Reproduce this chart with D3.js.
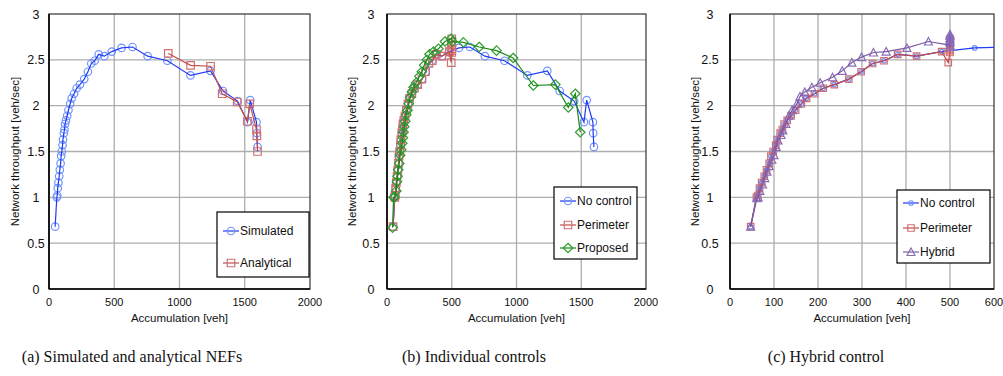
<!DOCTYPE html>
<html>
<head>
<meta charset="utf-8">
<script src="https://cdn.jsdelivr.net/npm/d3@7"></script>
<style>
  body { margin: 0; background: #fff; }
  svg { display: block; font-family: "Liberation Sans", Arial, sans-serif; }
</style>
</head>
<body>
<svg id="chart" width="1003" height="376"></svg>
<script>
// no control (simulated NEF)
const noControlAcc = [47, 60, 63, 67, 72, 78, 83, 89, 93, 98, 104, 107, 114, 119, 123, 130, 139, 149, 162, 174, 192, 212, 237, 270, 298, 324, 350, 381, 424, 481, 556, 640, 756, 907, 1084, 1238, 1334, 1445, 1521, 1542, 1590, 1592, 1598];
const noControlFlow = [0.68, 1.00, 1.02, 1.10, 1.16, 1.23, 1.30, 1.37, 1.45, 1.50, 1.57, 1.63, 1.70, 1.74, 1.80, 1.84, 1.89, 1.95, 2.02, 2.08, 2.13, 2.19, 2.23, 2.29, 2.37, 2.46, 2.49, 2.56, 2.54, 2.59, 2.63, 2.64, 2.54, 2.49, 2.33, 2.38, 2.16, 2.05, 1.82, 2.06, 1.82, 1.70, 1.55];

// analytical NEF
const analyticalAcc = [914, 1085, 1238, 1327, 1442, 1521, 1538, 1590, 1593, 1598];
const analyticalFlow = [2.57, 2.44, 2.43, 2.13, 2.04, 1.83, 2.02, 1.74, 1.67, 1.50];

// perimeter control
const perimeterAcc = [47, 60, 63, 67, 72, 78, 83, 89, 93, 98, 104, 107, 114, 119, 123, 130, 139, 149, 162, 174, 192, 212, 237, 270, 298, 324, 350, 381, 424, 481, 496, 500, 500, 500, 500, 500, 500];
const perimeterFlow = [0.68, 1.00, 1.02, 1.10, 1.16, 1.23, 1.30, 1.37, 1.45, 1.50, 1.57, 1.63, 1.70, 1.74, 1.80, 1.84, 1.89, 1.95, 2.02, 2.08, 2.13, 2.19, 2.23, 2.29, 2.37, 2.46, 2.49, 2.56, 2.54, 2.59, 2.47, 2.58, 2.62, 2.66, 2.69, 2.73, 2.60];

// proposed control
const proposedAcc = [43, 51, 58, 72, 77, 82, 87, 95, 102, 110, 118, 123, 128, 133, 141, 149, 159, 169, 179, 192, 205, 225, 251, 269, 287, 308, 328, 359, 397, 448, 495, 505, 590, 712, 846, 974, 1130, 1300, 1400, 1454, 1492];
const proposedFlow = [0.67, 1.00, 1.00, 1.07, 1.17, 1.23, 1.30, 1.37, 1.46, 1.52, 1.59, 1.65, 1.71, 1.77, 1.83, 1.90, 1.95, 2.02, 2.09, 2.15, 2.20, 2.25, 2.32, 2.37, 2.44, 2.50, 2.56, 2.59, 2.62, 2.70, 2.73, 2.70, 2.69, 2.64, 2.60, 2.52, 2.22, 2.23, 1.98, 2.13, 1.71];

// hybrid control
const hybridAcc = [47, 61, 64, 68, 74, 79, 84, 89, 95, 100, 105, 109, 116, 120, 127, 134, 141, 152, 159, 170, 186, 205, 233, 255, 277, 299, 326, 355, 402, 451, 500, 500, 500, 500, 500, 500, 500, 500];
const hybridFlow = [0.68, 0.99, 1.00, 1.07, 1.14, 1.21, 1.28, 1.34, 1.41, 1.46, 1.55, 1.62, 1.68, 1.73, 1.80, 1.89, 1.95, 2.02, 2.10, 2.15, 2.20, 2.25, 2.31, 2.38, 2.47, 2.53, 2.58, 2.59, 2.63, 2.70, 2.66, 2.69, 2.72, 2.74, 2.76, 2.78, 2.70, 2.64];

const yTicks = [0, 0.5, 1, 1.5, 2, 2.5, 3];
const xTicksWide = [0, 500, 1000, 1500, 2000];
const xTicksNarrow = [0, 100, 200, 300, 400, 500, 600];
const captions = ['(a) Simulated and analytical NEFs', '(b) Individual controls', '(c) Hybrid control'];

const svg = d3.select('#chart');

const styles = {
  blue:   { line: '#1f3cf5', mark: '#6f93ff' },
  red:    { line: '#c44e4e', mark: '#d27070' },
  green:  { line: '#168a16', mark: '#2f9c2f' },
  purple: { line: '#7a5ca6', mark: '#8a6cb8' }
};

function zip(xs, ys) {
  return xs.map((x, i) => [x, ys[i]]);
}

function markerPath(shape, size) {
  const s = size / 2;
  if (shape === 'square') return `M${-s},${-s}H${s}V${s}H${-s}Z`;
  if (shape === 'diamond') return `M0,${-s - 1}L${s + 1},0L0,${s + 1}L${-s - 1},0Z`;
  if (shape === 'triangle') return `M0,${-s - 0.5}L${s + 0.5},${s}L${-s - 0.5},${s}Z`;
  return null;
}

function drawMarker(g, shape, size, color, x, y) {
  if (shape === 'circle') {
    g.append('circle').attr('cx', x).attr('cy', y).attr('r', size / 2)
      .attr('fill', 'none').attr('stroke', color).attr('stroke-width', 1.2);
  } else {
    g.append('path').attr('d', markerPath(shape, size))
      .attr('transform', `translate(${x},${y})`)
      .attr('fill', 'none').attr('stroke', color).attr('stroke-width', 1.2);
  }
}

function drawPanel(p) {
  const x = d3.scaleLinear().domain(p.xDomain).range([p.left, p.right]);
  const y = d3.scaleLinear().domain([0, 3]).range([p.bottom, p.top]);
  const g = svg.append('g');

  // grid
  g.selectAll('.hgrid').data(yTicks.slice(1, -1)).enter().append('line')
    .attr('x1', p.left).attr('x2', p.right)
    .attr('y1', d => y(d)).attr('y2', d => y(d))
    .attr('stroke', '#adadad').attr('stroke-width', 1.3);
  g.selectAll('.vgrid').data(p.xTicks.slice(1, -1)).enter().append('line')
    .attr('y1', p.top).attr('y2', p.bottom)
    .attr('x1', d => x(d)).attr('x2', d => x(d))
    .attr('stroke', '#adadad').attr('stroke-width', 1.3);

  // frame
  g.append('rect').attr('x', p.left).attr('y', p.top)
    .attr('width', p.right - p.left).attr('height', p.bottom - p.top)
    .attr('fill', 'none').attr('stroke', '#333').attr('stroke-width', 1.2);
  g.append('line').attr('x1', p.left).attr('x2', p.left).attr('y1', p.top).attr('y2', p.bottom)
    .attr('stroke', '#000').attr('stroke-width', 1.6);
  g.append('line').attr('x1', p.left).attr('x2', p.right).attr('y1', p.bottom).attr('y2', p.bottom)
    .attr('stroke', '#000').attr('stroke-width', 1.6);

  // tick labels
  g.selectAll('.ylab').data(yTicks).enter().append('text')
    .attr('x', p.left - p.yTickOff).attr('y', d => y(d)).attr('dy', '0.36em')
    .attr('text-anchor', 'middle').attr('font-size', 12.5).attr('fill', '#111')
    .text(d => d);
  g.selectAll('.xlab').data(p.xTicks).enter().append('text')
    .attr('x', d => x(d)).attr('y', 306)
    .attr('text-anchor', 'middle').attr('font-size', 11).attr('fill', '#111')
    .text(d => d);

  // axis titles
  g.append('text').attr('transform', `translate(${p.yLabelX},${(p.top + p.bottom) / 2}) rotate(-90)`)
    .attr('text-anchor', 'middle').attr('dy', '0.35em').attr('font-size', 11.5).attr('fill', '#111')
    .text('Network throughput [veh/sec]');
  g.append('text').attr('x', (p.left + p.right) / 2).attr('y', 322)
    .attr('text-anchor', 'middle').attr('font-size', 11.5).attr('fill', '#111')
    .text('Accumulation [veh]');

  // series
  const clipId = 'clip' + p.id;
  svg.append('clipPath').attr('id', clipId).append('rect')
    .attr('x', p.left).attr('y', p.top - 10).attr('width', p.right - p.left).attr('height', p.bottom - p.top + 10);
  const plot = g.append('g').attr('clip-path', `url(#${clipId})`);
  const line = d3.line().x(d => x(d[0])).y(d => y(d[1]));

  p.series.forEach(s => {
    const pts = zip(s.xs, s.ys);
    const sg = plot.append('g');
    pts.forEach(d => drawMarker(sg, s.shape, s.size, s.style.mark, x(d[0]), y(d[1])));
    sg.append('path').datum(pts).attr('d', line)
      .attr('fill', 'none').attr('stroke', s.style.line).attr('stroke-width', 1.2);
  });

  // legend
  const L = p.legend;
  const lg = g.append('g');
  lg.append('rect').attr('x', L.x).attr('y', L.y).attr('width', L.w).attr('height', L.h)
    .attr('fill', '#fff').attr('stroke', '#000').attr('stroke-width', 1.2);
  p.series.forEach((s, i) => {
    const ly = L.rows[i];
    lg.append('line').attr('x1', L.x + 6).attr('x2', L.x + 22).attr('y1', ly).attr('y2', ly)
      .attr('stroke', s.style.line).attr('stroke-width', 1.2);
    drawMarker(lg, s.shape, s.size, s.style.mark, L.x + 14, ly);
    lg.append('text').attr('x', L.x + 23).attr('y', ly).attr('dy', '0.36em')
      .attr('font-size', 12).attr('fill', '#111').text(s.name);
  });

  svg.append('text').attr('x', p.captionX).attr('y', 362)
    .attr('text-anchor', 'middle').attr('font-family', '"Liberation Serif", "Times New Roman", serif')
    .attr('font-size', 16).attr('fill', '#111').text(p.caption);
}

drawPanel({
  id: 'a', left: 49, right: 310, top: 14, bottom: 289,
  xDomain: [0, 2000], xTicks: xTicksWide, yTickOff: 13, yLabelX: 15,
  caption: captions[0], captionX: 132,
  legend: { x: 217, y: 212, w: 92, h: 65, rows: [231, 263] },
  series: [
    { name: 'Simulated', xs: noControlAcc, ys: noControlFlow, style: styles.blue, shape: 'circle', size: 7.5 },
    { name: 'Analytical', xs: analyticalAcc, ys: analyticalFlow, style: styles.red, shape: 'square', size: 7.5 }
  ]
});

drawPanel({
  id: 'b', left: 387, right: 646, top: 14, bottom: 289,
  xDomain: [0, 2000], xTicks: xTicksWide, yTickOff: 16, yLabelX: 352,
  caption: captions[1], captionX: 474,
  legend: { x: 554, y: 187, w: 83, h: 72, rows: [201, 225, 248] },
  series: [
    { name: 'No control', xs: noControlAcc, ys: noControlFlow, style: styles.blue, shape: 'circle', size: 7.5 },
    { name: 'Perimeter', xs: perimeterAcc, ys: perimeterFlow, style: styles.red, shape: 'square', size: 7.5 },
    { name: 'Proposed', xs: proposedAcc, ys: proposedFlow, style: styles.green, shape: 'diamond', size: 7.5 }
  ]
});

drawPanel({
  id: 'c', left: 730, right: 994, top: 14, bottom: 289,
  xDomain: [0, 600], xTicks: xTicksNarrow, yTickOff: 20, yLabelX: 695,
  caption: captions[2], captionX: 826,
  legend: { x: 897, y: 190, w: 93, h: 73, rows: [203, 228, 252] },
  series: [
    { name: 'No control', xs: noControlAcc, ys: noControlFlow, style: styles.blue, shape: 'circle', size: 4.5 },
    { name: 'Perimeter', xs: perimeterAcc, ys: perimeterFlow, style: styles.red, shape: 'square', size: 6.5 },
    { name: 'Hybrid', xs: hybridAcc, ys: hybridFlow, style: styles.purple, shape: 'triangle', size: 7 }
  ]
});
</script>
</body>
</html>
